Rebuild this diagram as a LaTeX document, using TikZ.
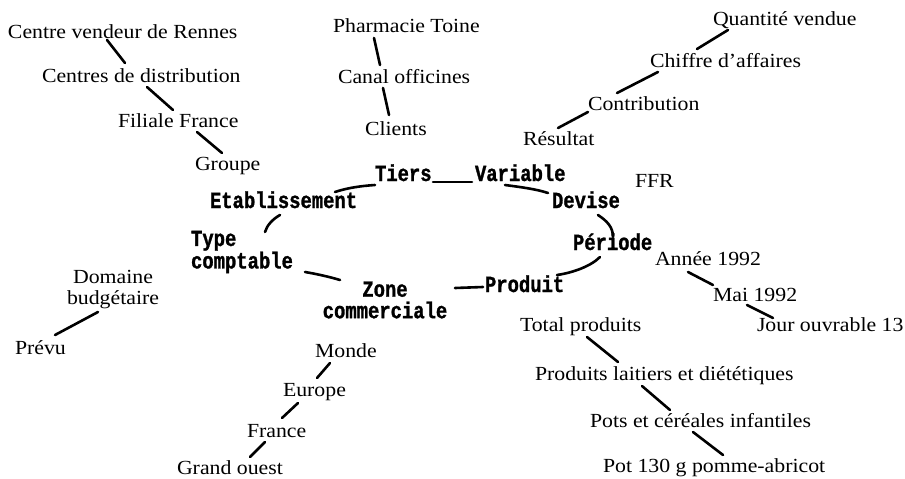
\documentclass[tikz,border=0pt]{standalone}
\usepackage{fontspec}
\setmainfont{Liberation Serif}[FakeStretch=1.09]
\newfontfamily\bmono{Liberation Mono Bold}[FakeStretch=0.82,FakeBold=1.2]
\tikzset{
  lbl/.style={font=\fontsize{20}{21}\selectfont, inner sep=0pt, outer sep=0pt},
  dim/.style={font=\bmono\fontsize{23}{20.5}\selectfont, inner sep=0pt, outer sep=0pt},
  link/.style={line width=2.6pt, line cap=round}
}
\begin{document}
\begin{tikzpicture}[x=1pt,y=-1pt]
\useasboundingbox (0,0) rectangle (905,479);
% left top chain
\node[lbl,anchor=base west] (ren) at (8,38) {Centre vendeur de Rennes};
\node[lbl,anchor=base west] (cdd) at (42,82) {Centres de distribution};
\node[lbl,anchor=base west] (fil) at (118,127) {Filiale France};
\node[lbl,anchor=base west] (grp) at (195,170) {Groupe};
% middle top chain
\node[lbl,anchor=base west] (pha) at (333,32) {Pharmacie Toine};
\node[lbl,anchor=base west] (can) at (338,83) {Canal officines};
\node[lbl,anchor=base west] (cli) at (365,135) {Clients};
% right top chain
\node[lbl,anchor=base west] (qte) at (713,25) {Quantité vendue};
\node[lbl,anchor=base west] (chf) at (650,67) {Chiffre d'affaires};
\node[lbl,anchor=base west] (con) at (588,110) {Contribution};
\node[lbl,anchor=base west] (res) at (523,145) {Résultat};
\node[lbl,anchor=base west] (ffr) at (635,187) {FFR};
% period chain
\node[lbl,anchor=base west] (ann) at (655,265) {Année 1992};
\node[lbl,anchor=base west] (mai) at (713,301) {Mai 1992};
\node[lbl,anchor=base west] (jou) at (757,331) {Jour ouvrable 13};
% product chain
\node[lbl,anchor=base west] (tot) at (520,331) {Total produits};
\node[lbl,anchor=base west] (lai) at (535,380) {Produits laitiers et diététiques};
\node[lbl,anchor=base west] (pcs) at (590,427) {Pots et céréales infantiles};
\node[lbl,anchor=base west] (pot) at (603,472) {Pot 130 g pomme-abricot};
% budget
\node[lbl,align=center] (dom) at (113,290) {Domaine\\budgétaire};
\node[lbl,anchor=base west] (pre) at (15,354) {Prévu};
% zone chain
\node[lbl,anchor=base west] (mon) at (315,357) {Monde};
\node[lbl,anchor=base west] (eur) at (283,396) {Europe};
\node[lbl,anchor=base west] (fra) at (247,437) {France};
\node[lbl,anchor=base west] (gou) at (177,474) {Grand ouest};
% dimensions
\node[dim,anchor=base west] (tie) at (375,181) {Tiers};
\node[dim,anchor=base west] (var) at (475,181) {Variable};
\node[dim,anchor=base west] (eta) at (210,208) {Etablissement};
\node[dim,anchor=base west] (dev) at (552,208) {Devise};
\node[dim,anchor=base west] (per) at (573,250) {Période};
\node[dim,anchor=base west] (pro) at (485,292) {Produit};
\node[dim,align=center,font=\bmono\fontsize{23}{21.5}\selectfont] (zon) at (385,300) {Zone\\commerciale};
\node[dim,align=left] (typ) at (242,252) {Type\\comptable};
% connectors
\draw[link] ([shift={(99,2)}]ren.base west) -- ([shift={(83,-19)}]cdd.base west);
\draw[link] ([shift={(105,5)}]cdd.base west) -- ([shift={(55,-17)}]fil.base west);
\draw[link] ([shift={(79,5)}]fil.base west) -- ([shift={(27,-17)}]grp.base west);
\draw[link] ([shift={(41,6)}]pha.base west) -- ([shift={(42,-18)}]can.base west);
\draw[link] ([shift={(45,5)}]can.base west) -- ([shift={(24,-20)}]cli.base west);
\draw[link] ([shift={(15,5)}]qte.base west) -- ([shift={(47,-18)}]chf.base west);
\draw[link] ([shift={(8,5)}]chf.base west) -- ([shift={(29,-17)}]con.base west);
\draw[link] ([shift={(0,2)}]con.base west) -- ([shift={(35,-17)}]res.base west);
\draw[link] ([shift={(58,1)}]tie.base west) -- ([shift={(-3,1)}]var.base west);
\draw[link] ([shift={(0,4)}]tie.base west) .. controls +(-15,1) and +(12,-4) .. ([shift={(125,-16)}]eta.base west);
\draw[link] ([shift={(30,4)}]var.base west) .. controls +(15,2) and +(-12,-4) .. ([shift={(-4,-15)}]dev.base west);
\draw[link] ([shift={(46,7)}]dev.base west) .. controls +(9,6) and +(0,-10) .. ([shift={(40,-13)}]per.base west);
\draw[link] ([shift={(27,7)}]per.base west) .. controls +(-10,10) and +(14,-2) .. ([shift={(72,-17)}]pro.base west);
\draw[link] ([shift={(70,-12)}]zon.center) -- ([shift={(-2,-5)}]pro.base west);
\draw[link] ([shift={(63,20)}]typ.center) .. controls +(12,2) and +(-10,-3) .. ([shift={(-45,-20)}]zon.center);
\draw[link] ([shift={(70,7)}]eta.base west) .. controls +(-7,4) and +(2,-7) .. ([shift={(23,-20)}]typ.center);
\draw[link] ([shift={(-15,22)}]dom.center) -- ([shift={(40,-19)}]pre.base west);
\draw[link] ([shift={(15,6)}]mon.base west) -- ([shift={(34,-18)}]eur.base west);
\draw[link] ([shift={(15,7)}]eur.base west) -- ([shift={(35,-19)}]fra.base west);
\draw[link] ([shift={(18,5)}]fra.base west) -- ([shift={(73,-17)}]gou.base west);
\draw[link] ([shift={(33,7)}]ann.base west) -- ([shift={(0,-16)}]mai.base west);
\draw[link] ([shift={(34,4)}]mai.base west) -- ([shift={(16,-13)}]jou.base west);
\draw[link] ([shift={(67,6)}]tot.base west) -- ([shift={(83,-18)}]lai.base west);
\draw[link] ([shift={(107,6)}]lai.base west) -- ([shift={(80,-17)}]pcs.base west);
\draw[link] ([shift={(103,5)}]pcs.base west) -- ([shift={(120,-17)}]pot.base west);
\end{tikzpicture}
\end{document}
